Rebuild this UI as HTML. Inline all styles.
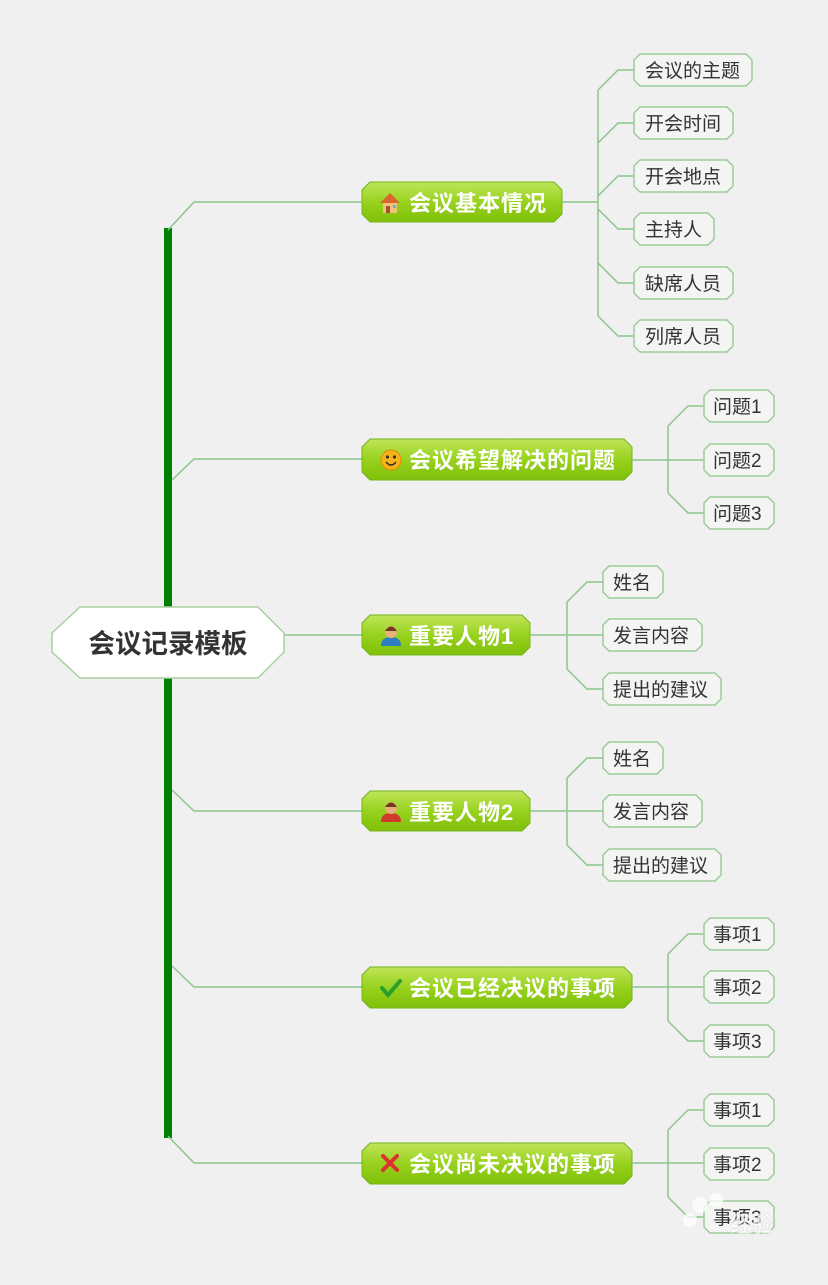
<!DOCTYPE html>
<html><head><meta charset="utf-8"><style>
html,body{margin:0;padding:0;background:#f0f0f0;}
svg{display:block;}
text{font-family:"Liberation Sans","Noto Sans CJK SC",sans-serif;}
.leaf{fill:#f4f4f2;stroke:#9ccc98;stroke-width:1.5;}
.lt{font-size:19px;fill:#333;}
.mt{font-size:22px;font-weight:bold;fill:#fff;letter-spacing:1px;}
.ln{stroke:#8cc68a;stroke-width:1.5;fill:none;}
.main{fill:url(#g);stroke:#74b51a;stroke-width:1;}
</style></head><body>
<svg width="828" height="1285" viewBox="0 0 828 1285" xmlns="http://www.w3.org/2000/svg">
<defs>
<linearGradient id="g" x1="0" y1="0" x2="0" y2="1">
<stop offset="0" stop-color="#bfe55a"/><stop offset="0.5" stop-color="#98d21e"/><stop offset="1" stop-color="#7fbf0a"/>
</linearGradient>
</defs>
<rect width="828" height="1285" fill="#f0f0f0"/>

<rect x="164" y="228" width="8" height="910" fill="#008000"/>
<path class="ln" d="M168,230 L194,202 L362,202"/>
<path class="ln" d="M172,480 L194,459 L362,459"/>
<path class="ln" d="M284,635 L362,635"/>
<path class="ln" d="M172,790 L194,811 L362,811"/>
<path class="ln" d="M172,966 L194,987 L362,987"/>
<path class="ln" d="M168,1136 L194,1163 L362,1163"/>

<polygon points="80,607 258,607 284,633 284,652 258,678 80,678 52,652 52,633" fill="#fff" stroke="#a8d0a0" stroke-width="1.5"/>
<text x="168" y="653" text-anchor="middle" style="font-size:26.5px;font-weight:bold;fill:#333">会议记录模板</text>

<polygon class="main" points="370,182 554,182 562,190 562,214 554,222 370,222 362,214 362,190"/>
<polygon class="main" points="370,439 624,439 632,447 632,472 624,480 370,480 362,472 362,447"/>
<polygon class="main" points="370,615 522,615 530,623 530,647 522,655 370,655 362,647 362,623"/>
<polygon class="main" points="370,791 522,791 530,799 530,823 522,831 370,831 362,823 362,799"/>
<polygon class="main" points="370,967 624,967 632,975 632,1000 624,1008 370,1008 362,1000 362,975"/>
<polygon class="main" points="370,1143 624,1143 632,1151 632,1176 624,1184 370,1184 362,1176 362,1151"/>

<g transform="translate(390,203)">
<polygon points="-10,0 0,-10 10,0" fill="#d9662a"/><rect x="-7" y="0" width="14" height="10" fill="#f1c27a"/><rect x="-4" y="3" width="4" height="7" fill="#a0522d"/><rect x="3" y="2" width="3" height="3" fill="#6ab0e0"/>
</g>
<g transform="translate(391,460)"><circle r="10" fill="#f6b416" stroke="#e08a00"/><circle cx="-3.5" cy="-3" r="1.6" fill="#333"/><circle cx="3.5" cy="-3" r="1.6" fill="#333"/><path d="M-5,2 Q0,8 5,2" stroke="#333" stroke-width="1.5" fill="none"/></g>
<g transform="translate(391,636)"><path d="M-10,10 Q-10,1 0,1 Q10,1 10,10 Z" fill="#2c7fc0"/><circle cy="-4" r="6" fill="#e8b07a"/><path d="M-6,-5 Q0,-14 6,-5" fill="#6b3a1a"/></g>
<g transform="translate(391,812)"><path d="M-10,10 Q-10,1 0,1 Q10,1 10,10 Z" fill="#d03a2a"/><circle cy="-4" r="6" fill="#e8b07a"/><path d="M-6,-5 Q0,-14 6,-5" fill="#6b3a1a"/></g>
<path d="M382,988 L388,995 L400,981" stroke="#2aa02a" stroke-width="4" fill="none" stroke-linecap="round"/>
<path d="M383,1156 L397,1170 M397,1156 L383,1170" stroke="#e03030" stroke-width="4" stroke-linecap="round"/>

<text class="mt" x="409" y="211">会议基本情况</text>
<text class="mt" x="409" y="468">会议希望解决的问题</text>
<text class="mt" x="409" y="644">重要人物1</text>
<text class="mt" x="409" y="820">重要人物2</text>
<text class="mt" x="409" y="996">会议已经决议的事项</text>
<text class="mt" x="409" y="1172">会议尚未决议的事项</text>

<path class="ln" d="M562,202 L598,202 M598,90 L598,316 M598,90 L618,70 L634,70 M598,143 L618,123 L634,123 M598,196 L618,176 L634,176 M598,209 L618,229 L634,229 M598,263 L618,283 L634,283 M598,316 L618,336 L634,336"/>
<polygon class="leaf" points="640,54 746,54 752,60 752,80 746,86 640,86 634,80 634,60"/><text class="lt" x="645" y="77">会议的主题</text>
<polygon class="leaf" points="640,107 727,107 733,113 733,133 727,139 640,139 634,133 634,113"/><text class="lt" x="645" y="130">开会时间</text>
<polygon class="leaf" points="640,160 727,160 733,166 733,186 727,192 640,192 634,186 634,166"/><text class="lt" x="645" y="183">开会地点</text>
<polygon class="leaf" points="640,213 708,213 714,219 714,239 708,245 640,245 634,239 634,219"/><text class="lt" x="645" y="236">主持人</text>
<polygon class="leaf" points="640,267 727,267 733,273 733,293 727,299 640,299 634,293 634,273"/><text class="lt" x="645" y="290">缺席人员</text>
<polygon class="leaf" points="640,320 727,320 733,326 733,346 727,352 640,352 634,346 634,326"/><text class="lt" x="645" y="343">列席人员</text>

<path class="ln" d="M632,460 L704,460 M668,426 L668,493 M668,426 L688,406 L704,406 M668,493 L688,513 L704,513"/>
<polygon class="leaf" points="710,390 768,390 774,396 774,416 768,422 710,422 704,416 704,396"/><text class="lt" x="713" y="413">问题1</text>
<polygon class="leaf" points="710,444 768,444 774,450 774,470 768,476 710,476 704,470 704,450"/><text class="lt" x="713" y="467">问题2</text>
<polygon class="leaf" points="710,497 768,497 774,503 774,523 768,529 710,529 704,523 704,503"/><text class="lt" x="713" y="520">问题3</text>

<path class="ln" d="M530,635 L603,635 M567,602 L567,669 M567,602 L587,582 L603,582 M567,669 L587,689 L603,689"/>
<polygon class="leaf" points="609,566 657,566 663,572 663,592 657,598 609,598 603,592 603,572"/><text class="lt" x="613" y="589">姓名</text>
<polygon class="leaf" points="609,619 696,619 702,625 702,645 696,651 609,651 603,645 603,625"/><text class="lt" x="613" y="642">发言内容</text>
<polygon class="leaf" points="609,673 715,673 721,679 721,699 715,705 609,705 603,699 603,679"/><text class="lt" x="613" y="696">提出的建议</text>

<path class="ln" d="M530,811 L603,811 M567,778 L567,845 M567,778 L587,758 L603,758 M567,845 L587,865 L603,865"/>
<polygon class="leaf" points="609,742 657,742 663,748 663,768 657,774 609,774 603,768 603,748"/><text class="lt" x="613" y="765">姓名</text>
<polygon class="leaf" points="609,795 696,795 702,801 702,821 696,827 609,827 603,821 603,801"/><text class="lt" x="613" y="818">发言内容</text>
<polygon class="leaf" points="609,849 715,849 721,855 721,875 715,881 609,881 603,875 603,855"/><text class="lt" x="613" y="872">提出的建议</text>

<path class="ln" d="M632,987 L704,987 M668,954 L668,1021 M668,954 L688,934 L704,934 M668,1021 L688,1041 L704,1041"/>
<polygon class="leaf" points="710,918 768,918 774,924 774,944 768,950 710,950 704,944 704,924"/><text class="lt" x="713" y="941">事项1</text>
<polygon class="leaf" points="710,971 768,971 774,977 774,997 768,1003 710,1003 704,997 704,977"/><text class="lt" x="713" y="994">事项2</text>
<polygon class="leaf" points="710,1025 768,1025 774,1031 774,1051 768,1057 710,1057 704,1051 704,1031"/><text class="lt" x="713" y="1048">事项3</text>

<path class="ln" d="M632,1163 L704,1163 M668,1130 L668,1197 M668,1130 L688,1110 L704,1110 M668,1197 L688,1217 L704,1217"/>
<polygon class="leaf" points="710,1094 768,1094 774,1100 774,1120 768,1126 710,1126 704,1120 704,1100"/><text class="lt" x="713" y="1117">事项1</text>
<polygon class="leaf" points="710,1148 768,1148 774,1154 774,1174 768,1180 710,1180 704,1174 704,1154"/><text class="lt" x="713" y="1171">事项2</text>
<polygon class="leaf" points="710,1201 768,1201 774,1207 774,1227 768,1233 710,1233 704,1227 704,1207"/><text class="lt" x="713" y="1224">事项3</text>

<g opacity="0.75">
<circle cx="700" cy="1205" r="8" fill="#fff"/><circle cx="716" cy="1200" r="7" fill="#fff"/><circle cx="690" cy="1220" r="7" fill="#fff"/>
<text x="730" y="1232" style="font-size:22px;font-weight:bold;fill:#fff;stroke:#ddd;stroke-width:0.6">经验</text>
</g>
</svg>
</body></html>
